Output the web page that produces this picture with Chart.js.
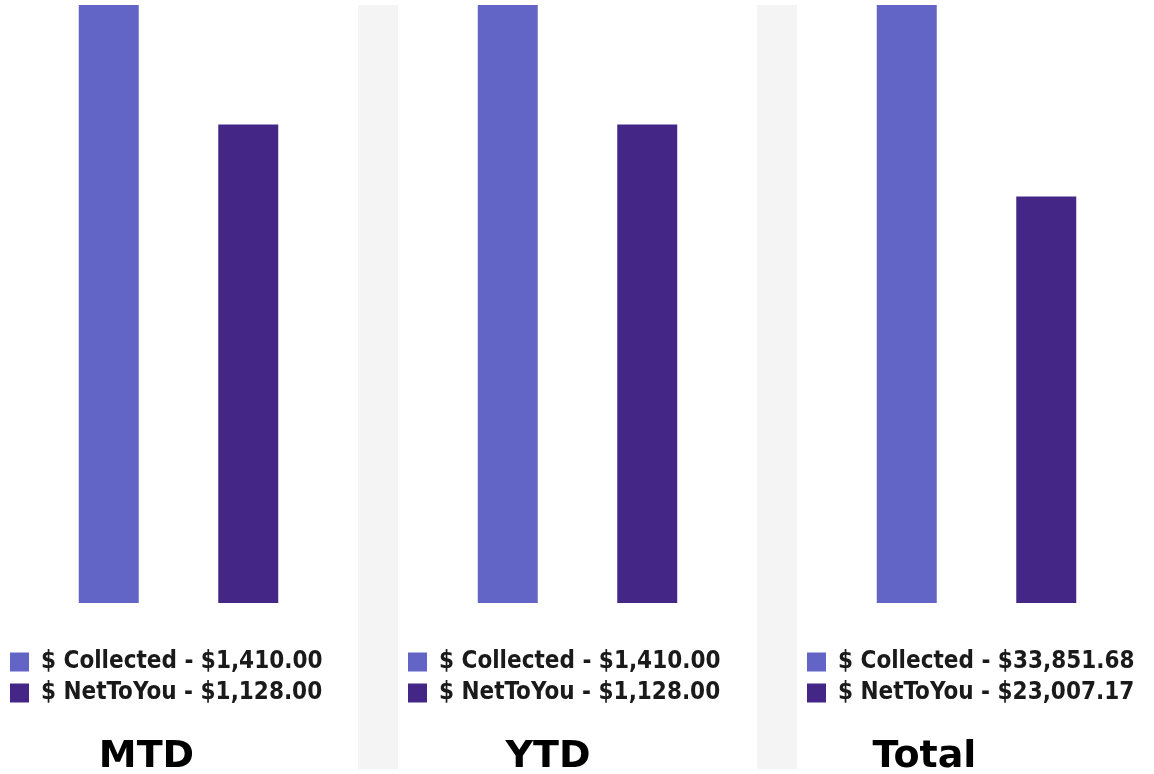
<!DOCTYPE html>
<html>
<head>
<meta charset="utf-8">
<script src="https://cdn.jsdelivr.net/npm/chart.js@4.4.1/dist/chart.umd.min.js"></script>
<style>
  html, body { margin: 0; padding: 0; background: #fff; }
  #wrap { position: relative; width: 1154px; height: 774px; background: #fff; overflow: hidden; }
  .gap { position: absolute; top: 5px; width: 40px; height: 764px; background: #f4f4f4; }
  .panel { position: absolute; top: 5px; width: 358px; height: 769px; }
  .panel-title {
    position: absolute; top: 735px; width: 200px; text-align: center;
    font: bold 38px/38px "DejaVu Sans", sans-serif; color: #000;
  }
</style>
</head>
<body>
<div id="wrap">
  <div class="gap" style="left:358px"></div>
  <div class="gap" style="left:757px"></div>
</div>
<script>
const periods = ['MTD', 'YTD', 'Total'];
const seriesNames = ['$ Collected', '$ NetToYou'];
const collected = [1410.00, 1410.00, 33851.68];
const netToYou = [1128.00, 1128.00, 23007.17];

const seriesColors = ['#6264c6', '#442686'];
const panelLeft = [0, 398, 797];
const panelPadRight = [4, 2, 2];
const titleCenter = [146.5, 548, 924.5];

function money(v) {
  return '$' + v.toLocaleString('en-US', { minimumFractionDigits: 2, maximumFractionDigits: 2 });
}

const wrap = document.getElementById('wrap');

periods.forEach((period, i) => {
  const panel = document.createElement('div');
  panel.className = 'panel';
  panel.style.left = panelLeft[i] + 'px';
  const canvas = document.createElement('canvas');
  canvas.width = 358;
  canvas.height = 769;
  panel.appendChild(canvas);
  wrap.appendChild(panel);

  const title = document.createElement('div');
  title.className = 'panel-title';
  title.style.left = (titleCenter[i] - 100) + 'px';
  title.textContent = period;
  wrap.appendChild(title);

  const values = [collected[i], netToYou[i]];
  const areaWidth = 358 - 3 - panelPadRight[i];

  new Chart(canvas.getContext('2d'), {
    type: 'bar',
    data: {
      labels: [period],
      datasets: seriesNames.map((name, k) => ({
        label: name + ' - ' + money(values[k]),
        data: [values[k]],
        backgroundColor: seriesColors[k],
        borderWidth: 0,
        categoryPercentage: 279 / areaWidth,
        barPercentage: 0.43,
      })),
    },
    options: {
      responsive: false,
      animation: false,
      layout: { padding: { left: 3, right: panelPadRight[i], top: 0, bottom: 59 } },
      scales: {
        x: {
          display: true,
          grid: { display: false },
          border: { display: false },
          ticks: { display: false },
          afterFit: (scale) => { scale.height = 40; }, // gap between bars and legend
        },
        y: {
          display: false,
          min: 0,
          max: Math.max(...values),
        },
      },
      plugins: {
        legend: {
          position: 'bottom',
          align: 'start',
          labels: {
            boxWidth: 19,
            boxHeight: 19,
            padding: 7,
            color: '#1a1a1a',
            font: { family: "'DejaVu Sans Condensed', 'DejaVu Sans', sans-serif", weight: 'bold', size: 24 },
          },
        },
        tooltip: { enabled: false },
      },
    },
  });
});
</script>
</body>
</html>
